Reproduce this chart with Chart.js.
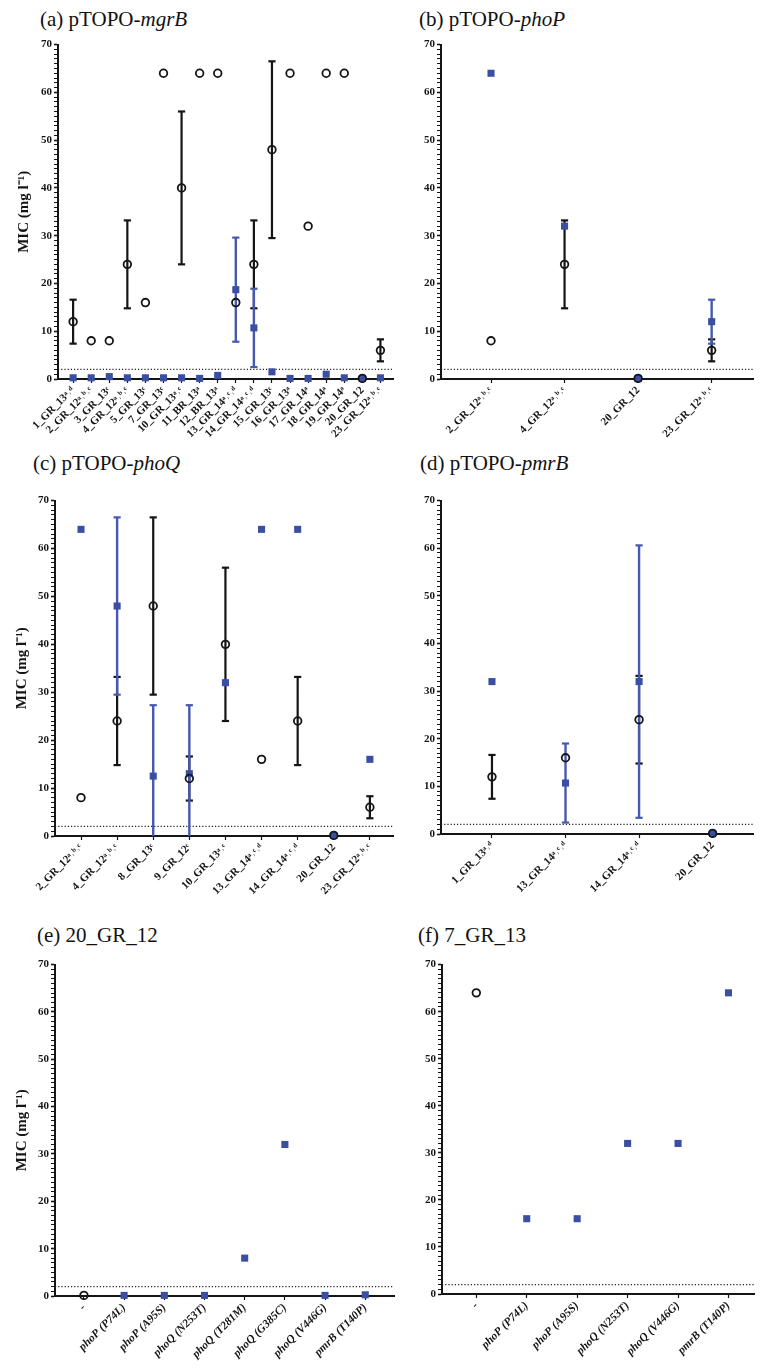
<!DOCTYPE html>
<html>
<head>
<meta charset="utf-8">
<title>MIC of pTOPO transformants</title>
<script src="https://cdn.jsdelivr.net/npm/chart.js@4.4.1/dist/chart.umd.min.js"></script>
<style>
  body { margin: 0; background: #fff; }
  #page { position: relative; width: 760px; height: 1368px; overflow: hidden; }
  canvas { position: absolute; }
  .title { position: absolute; font-family: 'Liberation Serif', 'Times New Roman', serif; font-size: 21px; line-height: 1; color: #111; white-space: nowrap; }
</style>
</head>
<body>
<div id="page">
  <div class="title" style="left:40px;top:9px">(a) pTOPO-<i>mgrB</i></div>
  <div class="title" style="left:419px;top:9px">(b) pTOPO-<i>phoP</i></div>
  <div class="title" style="left:33px;top:453px">(c) pTOPO-<i>phoQ</i></div>
  <div class="title" style="left:420px;top:453px">(d) pTOPO-<i>pmrB</i></div>
  <div class="title" style="left:37px;top:925px">(e) 20_GR_12</div>
  <div class="title" style="left:418px;top:925px">(f) 7_GR_13</div>

  <canvas id="chartA" width="400" height="440" style="left:0;top:36px"></canvas>
  <canvas id="chartB" width="360" height="440" style="left:400px;top:36px"></canvas>
  <canvas id="chartC" width="400" height="440" style="left:0;top:492px"></canvas>
  <canvas id="chartD" width="360" height="440" style="left:400px;top:492px"></canvas>
  <canvas id="chartE" width="400" height="412" style="left:0;top:956px"></canvas>
  <canvas id="chartF" width="360" height="412" style="left:400px;top:956px"></canvas>
</div>
<script>
const SERIF = "'Liberation Serif', 'Times New Roman', serif";
const BLACK = '#151515';
const BLUE = '#3a4fa1';
const BLUE_BAR = '#4759ad';

const yTickLabels = [0, 10, 20, 30, 40, 50, 60, 70];
const LIMIT = 2;

// (a) pTOPO-mgrB
const strainsA = ['1_GR_13ᵃ˒ᵈ', '2_GR_12ᵃ˒ᵇ˒ᶜ', '3_GR_13ᶜ', '4_GR_12ᵃ˒ᵇ˒ᶜ', '5_GR_13ᶜ', '7_GR_13ᶜ',
  '10_GR_13ᵃ˒ᶜ', '11_BR_13ᵃ', '12_BR_13ᵃ', '13_GR_14ᵃ˒ᶜ˒ᵈ', '14_GR_14ᵃ˒ᶜ˒ᵈ', '15_GR_13ᶜ',
  '16_GR_13ᵃ', '17_GR_14ᵃ', '18_GR_14ᵃ', '19_GR_14ᵃ', '20_GR_12', '23_GR_12ᵃ˒ᵇ˒ᶜ'];
const parentA = [12, 8, 8, 24, 16, 64, 40, 64, 64, 16, 24, 48, 64, 32, 64, 64, 0.125, 6];
const parentSdA = [4.6, 0, 0, 9.2, 0, 0, 16, 0, 0, 0, 9.2, 18.5, 0, 0, 0, 0, 0, 2.3];
const mutantA = [0.25, 0.25, 0.5, 0.25, 0.25, 0.25, 0.25, 0.125, 0.75, 18.7, 10.7, 1.5, 0.125, 0.125, 1, 0.25, 0.125, 0.25];
const mutantSdA = [0, 0, 0, 0, 0, 0, 0, 0, 0, 10.9, 8.2, 0, 0, 0, 0, 0, 0, 0];

// (b) pTOPO-phoP
const strainsB = ['2_GR_12ᵃ˒ᵇ˒ᶜ', '4_GR_12ᵃ˒ᵇ˒ᶜ', '20_GR_12', '23_GR_12ᵃ˒ᵇ˒ᶜ'];
const parentB = [8, 24, 0.125, 6];
const parentSdB = [0, 9.2, 0, 2.3];
const mutantB = [64, 32, 0.125, 12];
const mutantSdB = [0, 0, 0, 4.6];

// (c) pTOPO-phoQ
const strainsC = ['2_GR_12ᵃ˒ᵇ˒ᶜ', '4_GR_12ᵃ˒ᵇ˒ᶜ', '8_GR_13ᶜ', '9_GR_12ᶜ', '10_GR_13ᵃ˒ᶜ',
  '13_GR_14ᵃ˒ᶜ˒ᵈ', '14_GR_14ᵃ˒ᶜ˒ᵈ', '20_GR_12', '23_GR_12ᵃ˒ᵇ˒ᶜ'];
const parentC = [8, 24, 48, 12, 40, 16, 24, 0.125, 6];
const parentSdC = [0, 9.2, 18.5, 4.6, 16, 0, 9.2, 0, 2.3];
const mutantC = [64, 48, 12.5, 13, 32, 64, 64, 0.125, 16];
const mutantSdC = [0, 18.5, 14.8, 14.3, 0, 0, 0, 0, 0];

// (d) pTOPO-pmrB
const strainsD = ['1_GR_13ᵃ˒ᵈ', '13_GR_14ᵃ˒ᶜ˒ᵈ', '14_GR_14ᵃ˒ᶜ˒ᵈ', '20_GR_12'];
const parentD = [12, 16, 24, 0.125];
const parentSdD = [4.6, 0, 9.2, 0];
const mutantD = [32, 10.7, 32, 0.125];
const mutantSdD = [0, 8.3, 28.6, 0];

// (e) 20_GR_12
const mutationsE = ['-', 'phoP (P74L)', 'phoP (A95S)', 'phoQ (N253T)', 'phoQ (T281M)', 'phoQ (G385C)', 'phoQ (V446G)', 'pmrB (T140P)'];
const parentE = [0.125, null, null, null, null, null, null, null];
const mutantE = [null, 0.125, 0.125, 0.125, 8, 32, 0.125, 0.25];

// (f) 7_GR_13
const mutationsF = ['-', 'phoP (P74L)', 'phoP (A95S)', 'phoQ (N253T)', 'phoQ (V446G)', 'pmrB (T140P)'];
const parentF = [64, null, null, null, null, null];
const mutantF = [null, 16, 16, 32, 32, 64];

function points(values) {
  return values.map((v, i) => ({x: i, y: v})).filter(p => p.y !== null);
}

function errorBars(values, sds) {
  const out = [];
  values.forEach((v, i) => {
    if (v === null || !sds || !sds[i]) return;
    out.push({x: i, y: v - sds[i]}, {x: i, y: v + sds[i]}, {x: i, y: null});
  });
  return out;
}

function makeChart(id, o) {
  const barClip = {left: false, top: false, right: false, bottom: 0};
  new Chart(document.getElementById(id), {
    type: 'line',
    data: {
      datasets: [
        {
          data: points(o.parent), showLine: false, order: 0, clip: false,
          pointStyle: 'circle', pointRadius: 3.8, pointBorderWidth: 1.8,
          pointBorderColor: BLACK, pointBackgroundColor: 'rgba(0,0,0,0)'
        },
        {
          data: points(o.mutant), showLine: false, order: 1, clip: false,
          pointStyle: 'rect', pointRadius: 5, pointBorderWidth: 0,
          pointBackgroundColor: BLUE, pointBorderColor: BLUE
        },
        {
          data: errorBars(o.mutant, o.mutantSd), order: 2, clip: barClip, spanGaps: false,
          borderColor: BLUE_BAR, borderWidth: 2.4,
          pointStyle: 'line', pointRadius: 3.6, pointBorderWidth: 2.2, pointBorderColor: BLUE_BAR
        },
        {
          data: errorBars(o.parent, o.parentSd), order: 3, clip: barClip, spanGaps: false,
          borderColor: BLACK, borderWidth: 2.2,
          pointStyle: 'line', pointRadius: 3.6, pointBorderWidth: 2.2, pointBorderColor: BLACK
        },
        {
          data: [{x: o.xMin, y: LIMIT}, {x: o.xMax, y: LIMIT}], order: 4, clip: false,
          borderColor: '#222', borderWidth: 1.2, borderDash: [1.2, 2], pointRadius: 0
        }
      ]
    },
    options: {
      responsive: false,
      animation: false,
      events: [],
      layout: {padding: {left: 0, top: o.padTop, right: o.padRight, bottom: 0}},
      plugins: {legend: {display: false}, tooltip: {enabled: false}},
      scales: {
        x: {
          type: 'linear', min: o.xMin, max: o.xMax,
          afterBuildTicks: s => { s.ticks = o.labels.map((_, i) => ({value: i})); },
          afterFit: s => { s.height = o.xh; },
          border: {color: BLACK, width: 2},
          grid: {drawOnChartArea: false, tickLength: 4, color: BLACK, tickWidth: 1.2},
          ticks: {
            autoSkip: false, maxRotation: 45, minRotation: 45, padding: 1, color: BLACK,
            font: {family: SERIF, size: o.labelSize, weight: 'bold', style: o.italic ? 'italic' : 'normal'},
            callback: v => o.labels[v]
          }
        },
        y: {
          min: 0, max: 70,
          afterBuildTicks: s => {
            const t = [];
            for (let v = 0; v <= 70; v++) t.push({value: v});
            s.ticks = t;
          },
          afterFit: s => { s.width = o.yw; },
          border: {color: BLACK, width: 2},
          grid: {
            drawOnChartArea: false, tickLength: 4, color: BLACK,
            tickWidth: c => (c.tick && c.tick.value % 10 === 0) ? 1.6 : 1
          },
          ticks: {
            autoSkip: false, padding: 2, color: BLACK,
            font: {family: SERIF, size: 11, weight: 'bold'},
            callback: v => yTickLabels.includes(v) ? String(v) : ''
          },
          title: {
            display: !!o.yTitle, text: 'MIC (mg l⁻¹)', color: BLACK,
            font: {family: SERIF, size: 15, weight: 'bold'},
            padding: {top: o.titlePad || 0, bottom: 0}
          }
        }
      }
    }
  });
}

makeChart('chartA', {labels: strainsA, parent: parentA, parentSd: parentSdA, mutant: mutantA, mutantSd: mutantSdA,
  xMin: -0.836, xMax: 17.74, yw: 58, xh: 97, padTop: 6, padRight: 2, yTitle: true, titlePad: 15, labelSize: 11});
makeChart('chartB', {labels: strainsB, parent: parentB, parentSd: parentSdB, mutant: mutantB, mutantSd: mutantSdB,
  xMin: -0.68, xMax: 3.573, yw: 41, xh: 97, padTop: 6, padRight: 0, labelSize: 11});
makeChart('chartC', {labels: strainsC, parent: parentC, parentSd: parentSdC, mutant: mutantC, mutantSd: mutantSdC,
  xMin: -0.72, xMax: 8.64, yw: 55, xh: 96, padTop: 7, padRight: 7, yTitle: true, titlePad: 13, labelSize: 11});
makeChart('chartD', {labels: strainsD, parent: parentD, parentSd: parentSdD, mutant: mutantD, mutantSd: mutantSdD,
  xMin: -0.693, xMax: 3.56, yw: 41, xh: 98, padTop: 6, padRight: 0, labelSize: 11});
makeChart('chartE', {labels: mutationsE, parent: parentE, mutant: mutantE,
  xMin: -0.72, xMax: 7.72, yw: 55, xh: 72, padTop: 7, padRight: 5, yTitle: true, titlePad: 13, labelSize: 11.5, italic: true});
makeChart('chartF', {labels: mutationsF, parent: parentF, mutant: mutantF,
  xMin: -0.68, xMax: 5.51, yw: 42, xh: 74, padTop: 5, padRight: 0, labelSize: 11.5, italic: true});
</script>
</body>
</html>
